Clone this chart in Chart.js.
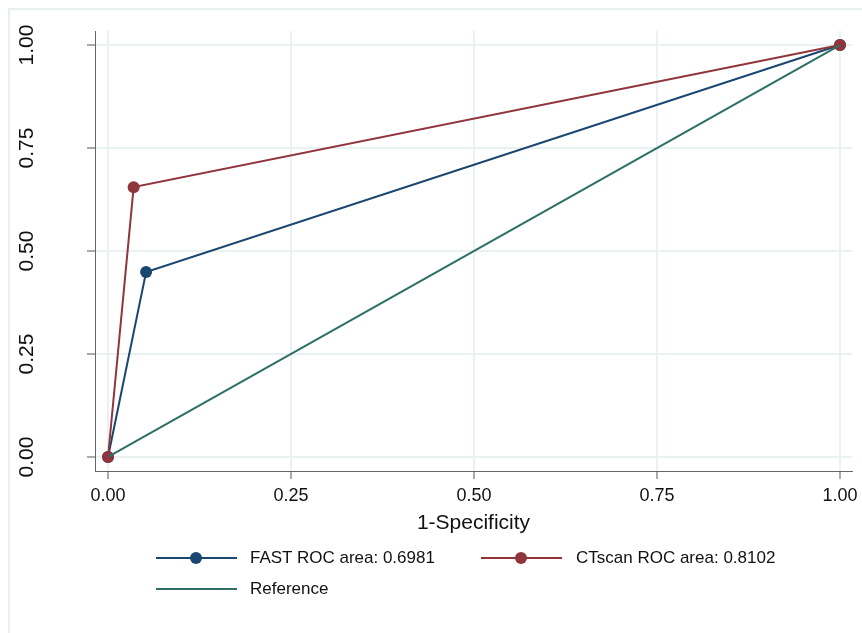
<!DOCTYPE html>
<html>
<head>
<meta charset="utf-8">
<script src="https://cdn.jsdelivr.net/npm/chart.js@4/dist/chart.umd.min.js"></script>
<style>
  html, body { margin:0; padding:0; background:#fff; overflow:hidden; }
  body { width:862px; height:633px; position:relative; font-family:"Liberation Sans", Arial, sans-serif; }
  .frame { position:absolute; left:8px; top:8px; width:870px; height:640px; border:2px solid #e8eff1; box-sizing:border-box; }
  #wrap { position:absolute; left:0; top:0; width:862px; height:633px; }
  .leg { position:absolute; font-size:17px; color:#111; line-height:20px; }
  .swatch { position:absolute; height:2px; }
  .dot { position:absolute; width:12px; height:12px; border-radius:50%; }
</style>
</head>
<body>
<div class="frame"></div>
<div id="wrap"><canvas id="roc" width="862" height="633"></canvas></div>
<div id="legend"></div>
<script>
// values
const tickVals = [0, 0.25, 0.5, 0.75, 1];
const fastX = [0, 0.052, 1];
const fastY = [0, 0.449, 1];
const ctX = [0, 0.035, 1];
const ctY = [0, 0.655, 1];
const refX = [0, 1];
const refY = [0, 1];
const seriesLabels = ['FAST ROC area: 0.6981', 'CTscan ROC area: 0.8102', 'Reference'];
const seriesColors = ['#1a476f', '#90353b', '#2d6e66'];

const pts = (xs, ys) => xs.map((x, i) => ({x, y: ys[i]}));
const fmt = v => v.toFixed(2);
const FONT = '"Liberation Sans", Arial, sans-serif';

// y tick labels are rotated in the reference, Chart.js can't do that on y axes
const yLabels = {
  id: 'yLabels',
  afterDraw(chart) {
    const ctx = chart.ctx, y = chart.scales.y;
    ctx.save();
    ctx.fillStyle = '#111';
    ctx.font = '21px ' + FONT;
    ctx.textAlign = 'center';
    ctx.textBaseline = 'middle';
    tickVals.forEach(v => {
      ctx.save();
      ctx.translate(27, y.getPixelForValue(v));
      ctx.rotate(-Math.PI / 2);
      ctx.fillText(fmt(v), 0, 0);
      ctx.restore();
    });
    ctx.restore();
  }
};

const setTicks = s => { s.ticks = tickVals.map(v => ({value: v})); };
const gridOpts = { color:'#e9f1f2', lineWidth:2, tickColor:'#555', tickWidth:1, tickLength:8 };

new Chart(document.getElementById('roc'), {
  type: 'scatter',
  data: {
    datasets: [
      { label: seriesLabels[0], data: pts(fastX, fastY), showLine:true, borderColor:seriesColors[0], backgroundColor:seriesColors[0], borderWidth:2, pointRadius:6, pointBorderWidth:0, order:3 },
      { label: seriesLabels[1], data: pts(ctX, ctY), showLine:true, borderColor:seriesColors[1], backgroundColor:seriesColors[1], borderWidth:2, pointRadius:6, pointBorderWidth:0, order:2 },
      { label: seriesLabels[2], data: pts(refX, refY), showLine:true, borderColor:seriesColors[2], backgroundColor:seriesColors[2], borderWidth:2, pointRadius:0, order:1 }
    ]
  },
  options: {
    responsive:false, animation:false,
    layout: { padding: { left:0, top:31, right:10, bottom:97 } },
    plugins: { legend:{display:false}, tooltip:{enabled:false} },
    scales: {
      x: {
        type:'linear', min:-0.0178, max:1.0164,
        afterBuildTicks: setTicks,
        afterFit: s => { s.height = 65; s.paddingLeft = 0; s.paddingRight = 0; },
        grid: gridOpts,
        border: { display:true, color:'#666', width:1 },
        ticks: { color:'#111', font:{family:FONT, size:18}, padding:6, callback: v => fmt(v), maxRotation:0 },
        title: { display:true, text:'1-Specificity', color:'#111', font:{family:FONT, size:21}, padding:{top:0, bottom:0} }
      },
      y: {
        type:'linear', min:-0.034, max:1.034,
        afterBuildTicks: setTicks,
        afterFit: s => { s.width = 95; },
        grid: gridOpts,
        border: { display:true, color:'#666', width:1 },
        ticks: { display:false }
      }
    }
  },
  plugins: [yLabels]
});

// legend, two columns like the reference
const legendItems = [
  { row:0, x:156, textX:250, marker:true },
  { row:0, x:481, textX:576, marker:true },
  { row:1, x:156, textX:250, marker:false }
];
const rowY = [558, 589];
const leg = document.getElementById('legend');
legendItems.forEach((it, i) => {
  const cy = rowY[it.row];
  const line = document.createElement('div');
  line.className = 'swatch';
  Object.assign(line.style, { left: it.x + 'px', top: (cy - 1) + 'px', width: '81px', background: seriesColors[i] });
  leg.appendChild(line);
  if (it.marker) {
    const d = document.createElement('div');
    d.className = 'dot';
    Object.assign(d.style, { left: (it.x + 34) + 'px', top: (cy - 6) + 'px', background: seriesColors[i] });
    leg.appendChild(d);
  }
  const t = document.createElement('div');
  t.className = 'leg';
  t.textContent = seriesLabels[i];
  Object.assign(t.style, { left: it.textX + 'px', top: (cy - 10) + 'px' });
  leg.appendChild(t);
});
</script>
</body>
</html>
